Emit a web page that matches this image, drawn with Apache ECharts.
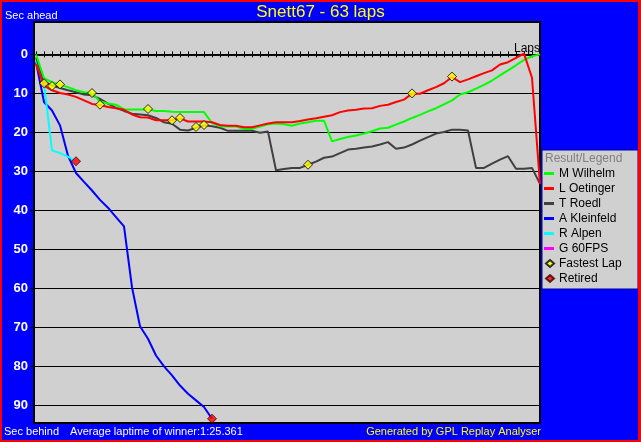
<!DOCTYPE html>
<html><head><meta charset="utf-8">
<script src="https://cdn.jsdelivr.net/npm/echarts@6/dist/echarts.min.js"></script>
<style>html,body{margin:0;padding:0;background:#0000ff;}#c{width:641px;height:442px;}</style>
</head><body><div id="c"></div>
<script>
// ---- data (seconds behind the winner's average pace, per lap) ----
const drivers = ['M Wilhelm', 'L Oetinger', 'T Roedl', 'A Kleinfeld', 'R Alpen', 'G 60FPS'];
const driverColors = ['#00ff00', '#ff0000', '#404040', '#0000ff', '#00ffff', '#ff00ff'];

const wilhelm = [0, 6.1, 7.1, 7.8, 8.4, 9.2, 9.7, 9.9, 12.1, 12.6, 12.9, 14.1, 14.1, 14.1, 14.1, 14.5, 14.5, 14.7, 14.8, 14.8, 14.8, 14.8, 17.6, 18.4, 18.5, 18.5, 19.1, 19.1, 18.5, 17.9, 17.7, 17.9, 18.3, 17.7, 17.4, 17.0, 17.0, 22.3, 21.7, 21.2, 20.8, 20.3, 19.7, 19.0, 18.8, 18.0, 17.2, 16.3, 15.5, 14.6, 13.8, 12.8, 11.8, 10.3, 9.7, 8.8, 7.8, 6.7, 5.4, 4.1, 2.8, 1.4, 0.5, 0];
const oetinger = [2.5, 8.0, 9.2, 9.9, 10.3, 10.9, 11.8, 12.7, 13.0, 13.5, 13.8, 14.2, 15.4, 16.1, 16.2, 16.9, 16.9, 16.9, 16.4, 17.2, 17.2, 17.2, 17.4, 18.1, 18.3, 18.3, 18.7, 18.7, 18.2, 17.7, 17.4, 17.4, 17.4, 17.1, 16.7, 16.4, 16.0, 15.6, 14.8, 14.4, 14.2, 13.9, 13.8, 13.2, 12.9, 12.2, 11.6, 10.1, 10.1, 9.2, 8.4, 7.4, 5.8, 7.1, 6.4, 5.6, 4.8, 4.1, 2.6, 2.0, 0.9, -0.2, 6.0, 33.2];
const roedl = [0.8, 7.0, 8.0, 8.6, 9.2, 9.7, 10.3, 10.5, 11.4, 12.6, 13.7, 14.5, 15.2, 15.4, 15.6, 16.3, 17.4, 17.8, 19.3, 19.5, 18.8, 18.2, 18.4, 18.8, 19.6, 19.6, 19.6, 19.6, 20.1, 19.8, 29.7, 29.4, 29.1, 29.1, 28.3, 27.5, 26.5, 26.2, 25.3, 24.4, 24.2, 23.9, 23.6, 23.1, 22.5, 24.2, 23.9, 23.1, 22.1, 21.2, 20.3, 19.9, 19.3, 19.3, 19.5, 29.1, 29.1, 28.0, 27.0, 26.1, 29.3, 29.3, 29.1, 33.2];
const kleinfeld = [2.0, 12.2, 14.4, 18.2, 26.0, 30.4, 32.7, 34.9, 37.3, 39.3, 41.7, 44.1, 59.7, 69.7, 72.9, 77.2, 80.0, 82.3, 84.9, 87.0, 88.7, 90.4, 93.4];
const alpen = [1.5, 7.5, 24.6, 25.3, 26.2, 27.4];
const fps60 = [];

const fastestLaps = [[1, 7.4], [2, 8.1], [3, 7.7], [7, 9.9], [8, 12.9], [14, 14.0], [17, 16.9], [18, 16.3], [20, 18.6], [21, 18.1], [34, 28.3], [47, 10.0], [52, 5.7]];
const retired = [[5, 27.4], [22, 93.4]];

const yTicks = [0, 10, 20, 30, 40, 50, 60, 70, 80, 90];
const totalLaps = 63;

// ---- chart ----
const FONT = "'Liberation Sans', Arial, sans-serif";
const seriesData = [wilhelm, oetinger, roedl, kleinfeld, alpen, fps60];
const drawOrder = [3, 4, 5, 2, 0, 1];

const chart = echarts.init(document.getElementById('c'), null, {renderer: 'canvas'});

const lineSeries = drawOrder.map(i => ({
  name: drivers[i],
  type: 'line',
  xAxisIndex: 1, yAxisIndex: 1,
  data: seriesData[i].map((v, lap) => [lap, v]),
  showSymbol: false, symbol: 'none',
  color: driverColors[i],
  lineStyle: {width: 2, color: driverColors[i]},
  silent: true, z: 3
}));

const option = {
  animation: false,
  backgroundColor: '#0000ff',
  title: {
    text: 'Snett67 - 63 laps', left: 'center', top: 4, padding: 0,
    textStyle: {color: '#ffff00', fontSize: 17, fontWeight: 'normal', fontFamily: FONT}
  },
  grid: [
    {left: 34, top: 22, width: 506, height: 401, show: true, backgroundColor: '#d0d0d0', borderColor: '#000', borderWidth: 2},
    {left: 36, top: 22, width: 504, height: 401, show: false}
  ],
  xAxis: [
    {gridIndex: 0, type: 'value', min: 0, max: 1,
     axisLine: {show: true, onZero: true, onZeroAxisIndex: 0, lineStyle: {color: '#000', width: 1.5}},
     axisTick: {show: false}, axisLabel: {show: false}, splitLine: {show: false}},
    {gridIndex: 1, type: 'value', min: 0, max: totalLaps, interval: 1, position: 'bottom',
     axisLine: {show: true, onZero: true, onZeroAxisIndex: 1, lineStyle: {color: '#000', width: 1.5}},
     axisTick: {show: true, length: 3, lineStyle: {color: '#000', width: 1}},
     axisLabel: {show: false}, splitLine: {show: false},
     name: 'Laps', nameLocation: 'end', nameGap: 0,
     nameTextStyle: {color: '#000', fontSize: 12, fontFamily: FONT, align: 'right', verticalAlign: 'bottom'}},
    {gridIndex: 1, type: 'value', min: 0, max: totalLaps, interval: 1, position: 'top',
     axisLine: {show: false, onZero: true, onZeroAxisIndex: 1},
     axisTick: {show: true, length: 3, lineStyle: {color: '#000', width: 1}},
     axisLabel: {show: false}, splitLine: {show: false}}
  ],
  yAxis: [
    {gridIndex: 0, type: 'value', inverse: true, min: -8.3, max: 94.5,
     axisLine: {show: true, lineStyle: {color: '#000', width: 2}},
     axisTick: {show: true, length: 4, customValues: yTicks, lineStyle: {color: '#000', width: 1}},
     axisLabel: {show: true, customValues: yTicks, color: '#ffffff', fontWeight: 'bold', fontSize: 13, margin: 6, fontFamily: FONT},
     splitLine: {show: true, lineStyle: {color: '#000', width: 1}}},
    {gridIndex: 1, type: 'value', inverse: true, min: -8.3, max: 94.5, show: false,
     axisLine: {onZero: false}, splitLine: {show: false}}
  ],
  legend: [
    {orient: 'vertical', left: 544, top: 166, padding: 0, itemGap: 0,
     itemWidth: 10, itemHeight: 3, icon: 'rect', selectedMode: false,
     data: drivers,
     textStyle: {color: '#000', fontSize: 12, lineHeight: 15, fontFamily: FONT}},
    {orient: 'vertical', left: 545, top: 256, padding: 0, itemGap: 0,
     itemWidth: 8, itemHeight: 7, selectedMode: false,
     data: [{name: 'Fastest Lap', icon: 'diamond'}, {name: 'Retired', icon: 'diamond'}],
     textStyle: {color: '#000', fontSize: 12, lineHeight: 15, fontFamily: FONT}}
  ],
  graphic: [
    {type: 'rect', z: 1, shape: {x: 542, y: 150, width: 96, height: 139}, style: {fill: '#d0d0d0', stroke: '#0000a0', lineWidth: 1}},
    {type: 'text', z: 10, style: {x: 545, y: 159, text: 'Result/Legend', fill: '#808080', font: '12px ' + FONT, verticalAlign: 'middle'}},
    {type: 'text', z: 10, style: {x: 5, y: 16, text: 'Sec ahead', fill: '#ffffff', font: '11px ' + FONT, verticalAlign: 'middle'}},
    {type: 'text', z: 10, style: {x: 4, y: 432, text: 'Sec behind', fill: '#ffffff', font: '11px ' + FONT, verticalAlign: 'middle'}},
    {type: 'text', z: 10, style: {x: 70, y: 432, text: 'Average laptime of winner:1:25.361', fill: '#ffffff', font: '11px ' + FONT, verticalAlign: 'middle'}},
    {type: 'text', z: 10, style: {x: 541, y: 432, text: 'Generated by GPL Replay Analyser', fill: '#ffff00', font: '11px ' + FONT, verticalAlign: 'middle', align: 'right'}},
    {type: 'rect', z: 20, shape: {x: 0, y: 0, width: 641, height: 2}, style: {fill: '#ff0000'}},
    {type: 'rect', z: 20, shape: {x: 0, y: 440, width: 641, height: 2}, style: {fill: '#ff0000'}},
    {type: 'rect', z: 20, shape: {x: 0, y: 0, width: 2, height: 442}, style: {fill: '#ff0000'}},
    {type: 'rect', z: 20, shape: {x: 638, y: 0, width: 3, height: 442}, style: {fill: '#ff0000'}}
  ],
  series: lineSeries.concat([
    {name: 'Fastest Lap', type: 'scatter', xAxisIndex: 1, yAxisIndex: 1, data: fastestLaps,
     symbol: 'diamond', symbolSize: 9, silent: true, z: 5,
     itemStyle: {color: '#ffff00', borderColor: '#000', borderWidth: 1}},
    {name: 'Retired', type: 'scatter', xAxisIndex: 1, yAxisIndex: 1, data: retired,
     symbol: 'diamond', symbolSize: 9, silent: true, z: 5,
     itemStyle: {color: '#ff0000', borderColor: '#400000', borderWidth: 1}}
  ])
};
chart.setOption(option);
</script>
</body></html>
